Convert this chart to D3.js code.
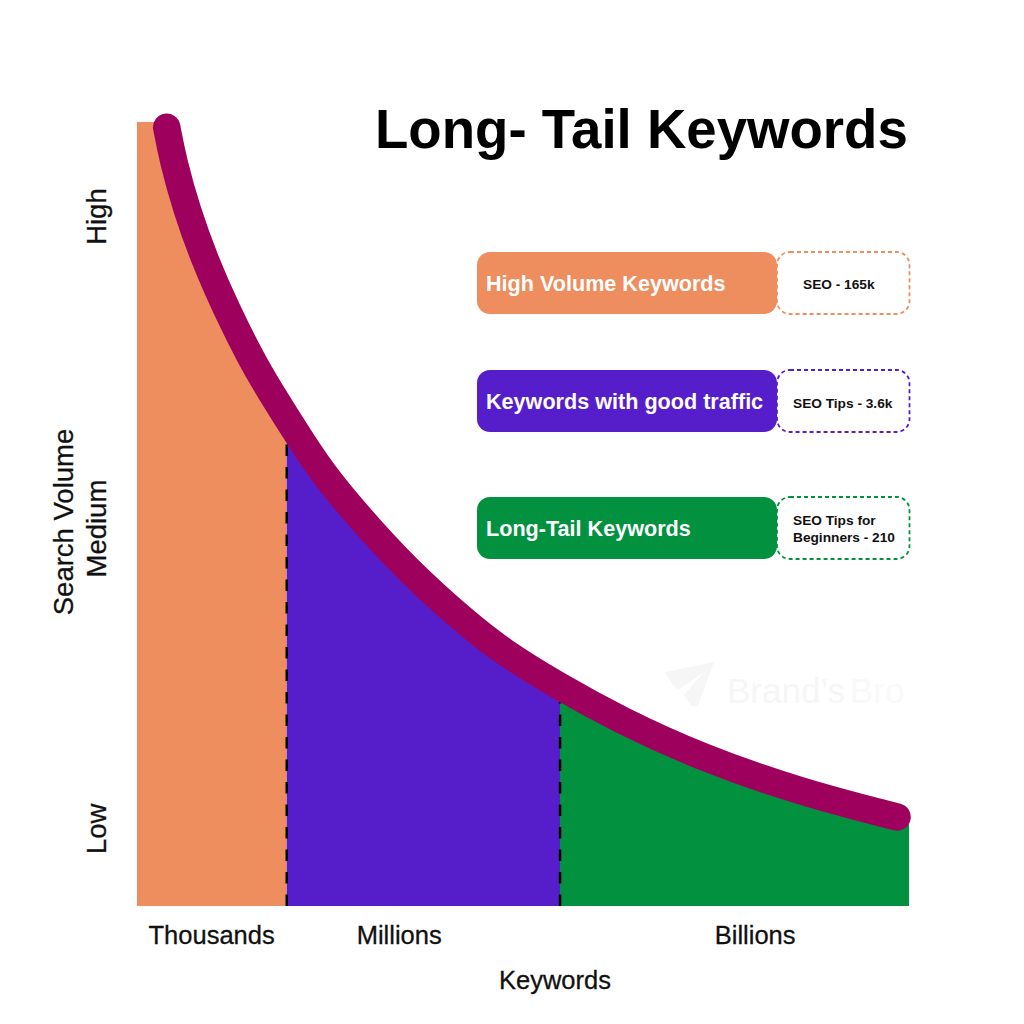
<!DOCTYPE html>
<html>
<head>
<meta charset="utf-8">
<script src="https://cdnjs.cloudflare.com/ajax/libs/d3/7.8.5/d3.min.js"></script>
<style>
  body { margin: 0; background: #fff; }
  text { font-family: "Liberation Sans", Arial, sans-serif; }
  .domain { display: none; }
</style>
</head>
<body>
<svg id="chart" width="1024" height="1024"></svg>
<script>
// curve, both axes 0-100
var curveX = [3.85, 4.66, 6.44, 8.77, 11.62, 14.73, 16.97, 21.63, 24.61, 30.44, 36.14, 42.23, 47.02, 54.79, 62.56, 72.93, 85.88, 98.45];
var curveY = [99.32, 95.15, 88.78, 82.4, 76.02, 69.9, 66.07, 58.8, 54.46, 47.7, 41.84, 36.48, 32.65, 27.93, 23.72, 19, 14.54, 11.35];

var breaks = [0, 19.4, 54.8, 100];
var regionColors = ["#ee8d5e", "#561ecb", "#02923f"];
var curveColor = "#9e005d";

var xTickValues = [9.6, 33.9, 80];
var xTickLabels = ["Thousands", "Millions", "Billions"];
var yTickValues = [88, 48.2, 9.9];
var yTickLabels = ["High", "Medium", "Low"];

var legendLabels = ["High Volume Keywords", "Keywords with good traffic", "Long-Tail Keywords"];
var legendNotes = [["SEO - 165k"], ["SEO Tips - 3.6k"], ["SEO Tips for", "Beginners - 210"]];

var svg = d3.select("#chart");

var x = d3.scaleLinear().domain([0, 100]).range([137, 909]);
var y = d3.scaleLinear().domain([0, 100]).range([906, 122]);

var points = curveX.map(function(d, i) { return [d, curveY[i]]; });

var line = d3.line()
  .x(function(d) { return x(d[0]); })
  .y(function(d) { return y(d[1]); })
  .curve(d3.curveBasis);

var area = d3.area()
  .x(function(d) { return x(d[0]); })
  .y0(y(0))
  .y1(function(d) { return y(d[1]); });

// fill under the curve, cut in three by clip rects. the thick line hides the chords
var fillPoints = [[0, 100], [curveX[0], 100]].concat(points).concat([[100, 10.6]]);

regionColors.forEach(function(c, i) {
  svg.append("clipPath").attr("id", "clip" + i)
    .append("rect")
    .attr("x", x(breaks[i]))
    .attr("y", y(100))
    .attr("width", x(breaks[i + 1]) - x(breaks[i]))
    .attr("height", y(0) - y(100));

  svg.append("path")
    .attr("d", area(fillPoints))
    .attr("fill", c)
    .attr("clip-path", "url(#clip" + i + ")");
});

// dashed dividers
[1, 2].forEach(function(i) {
  svg.append("line")
    .attr("x1", x(breaks[i])).attr("x2", x(breaks[i]))
    .attr("y1", y(0)).attr("y2", y(i == 1 ? 60 : 26))
    .attr("stroke", "#000")
    .attr("stroke-width", 2.5)
    .attr("stroke-dasharray", "11.5,11");
});

svg.append("path")
  .attr("d", line(points))
  .attr("fill", "none")
  .attr("stroke", curveColor)
  .attr("stroke-width", 27.5)
  .attr("stroke-linecap", "round");

// axes
var xAxis = d3.axisBottom(x)
  .tickValues(xTickValues)
  .tickSize(0)
  .tickFormat(function(d, i) { return xTickLabels[i]; });

var gx = svg.append("g").attr("transform", "translate(0,906)").call(xAxis);
gx.selectAll("text")
  .attr("y", 38)
  .attr("dy", 0)
  .attr("font-size", 25.5)
  .attr("fill", "#111")
  .attr("stroke", "#111")
  .attr("stroke-width", 0.3);

var yAxis = d3.axisLeft(y)
  .tickValues(yTickValues)
  .tickSize(0)
  .tickFormat(function(d, i) { return yTickLabels[i]; });

var gy = svg.append("g").attr("transform", "translate(137,0)").call(yAxis);
gy.selectAll("text")
  .attr("transform", "translate(-31,0) rotate(-90)")
  .attr("x", 0)
  .attr("y", 0)
  .attr("dy", 0)
  .attr("text-anchor", "middle")
  .attr("font-size", 27.5)
  .attr("fill", "#111")
  .attr("stroke", "#111")
  .attr("stroke-width", 0.3);

svg.append("text")
  .attr("transform", "translate(73,522) rotate(-90)")
  .attr("text-anchor", "middle")
  .attr("font-size", 27.5)
  .attr("fill", "#111")
  .attr("stroke", "#111")
  .attr("stroke-width", 0.3)
  .text("Search Volume");

svg.append("text")
  .attr("x", 555)
  .attr("y", 989)
  .attr("text-anchor", "middle")
  .attr("font-size", 25.5)
  .attr("fill", "#111")
  .attr("stroke", "#111")
  .attr("stroke-width", 0.3)
  .text("Keywords");

svg.append("text")
  .attr("x", 375)
  .attr("y", 148)
  .attr("font-size", 54.6)
  .attr("font-weight", "bold")
  .attr("fill", "#000")
  .text("Long- Tail Keywords");

// legend rows
var rowTops = [252, 370, 497];
var noteLeft = [803, 793, 793];
var noteBase = [37, 38, 28];

legendLabels.forEach(function(label, i) {
  var top = rowTops[i];
  var g = svg.append("g");

  g.append("rect")
    .attr("x", 777).attr("y", top)
    .attr("width", 132.5).attr("height", 62)
    .attr("rx", 13)
    .attr("fill", "#fff")
    .attr("stroke", regionColors[i])
    .attr("stroke-width", 1.8)
    .attr("stroke-dasharray", "4,3");

  g.append("rect")
    .attr("x", 477).attr("y", top)
    .attr("width", 300).attr("height", 62)
    .attr("rx", 13)
    .attr("fill", regionColors[i]);

  g.append("text")
    .attr("x", 486).attr("y", top + 39)
    .attr("font-size", 21.6)
    .attr("font-weight", "bold")
    .attr("fill", "#fff")
    .text(label);

  legendNotes[i].forEach(function(n, j) {
    g.append("text")
      .attr("x", noteLeft[i])
      .attr("y", top + noteBase[i] + j * 16.7)
      .attr("font-size", 13.7)
      .attr("font-weight", "bold")
      .attr("fill", "#111")
      .text(n);
  });
});

// faint watermark
var mark = svg.append("g").attr("fill", "#f6f6f6");
mark.append("path").attr("d", "M665 672 L714 662 L698 705 Q694 709 690 704 L684 695 L704 672 L678 690 L672 684 Z");
mark.append("text")
  .attr("x", 727).attr("y", 703)
  .attr("font-size", 35)
  .text("Brand’s");
mark.append("text")
  .attr("x", 850).attr("y", 703)
  .attr("font-size", 35)
  .attr("fill", "#f9f9f9")
  .text("Bro");
</script>
</body>
</html>
